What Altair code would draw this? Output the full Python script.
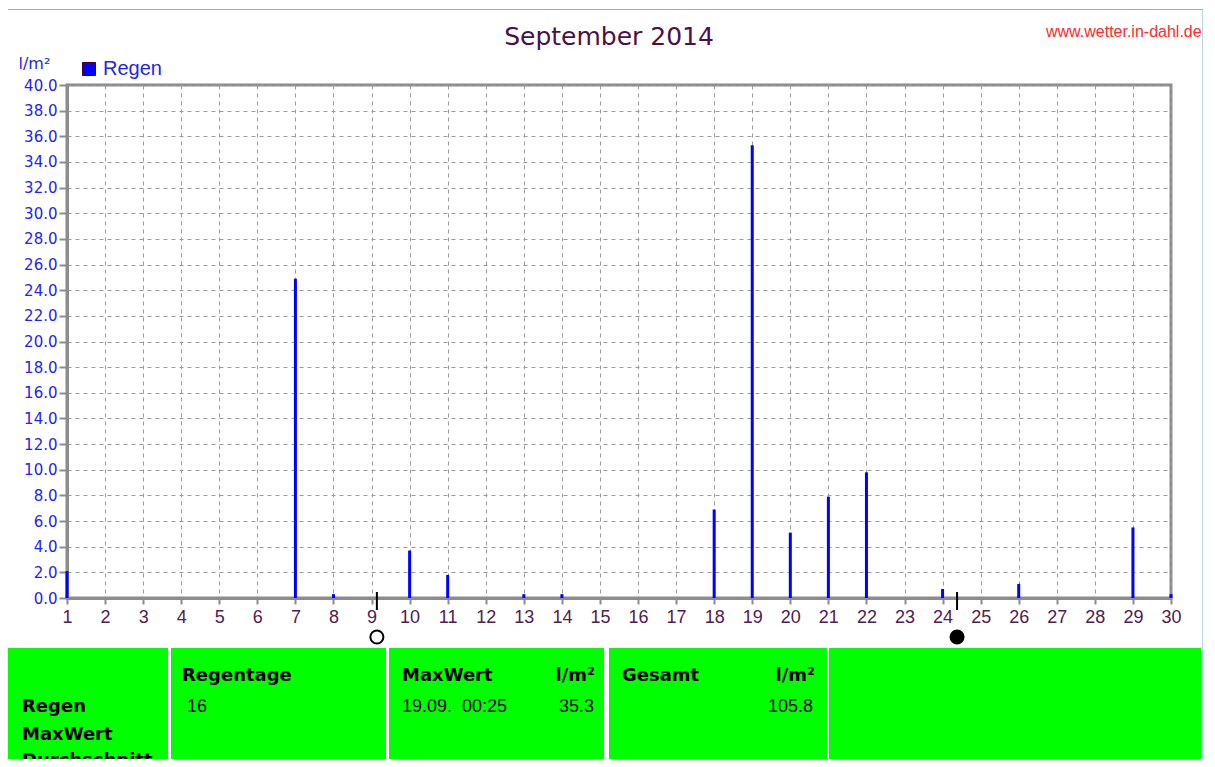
import altair as alt
import pandas as pd

# ---- data ----
days = [1, 7, 8, 10, 11, 13, 14, 18, 19, 20, 21, 22, 24, 26, 29, 30]
rain = [2.1, 24.9, 0.3, 3.7, 1.8, 0.3, 0.3, 6.9, 35.3, 5.1, 7.9, 9.8, 0.7, 1.1, 5.5, 0.3]
series_name = "Regen"

x_tick_values = list(range(1, 31))
y_tick_values = [float(v) for v in range(0, 41, 2)]

moon_days = [9.14, 24.38]
moon_phase = ["Vollmond", "Neumond"]

title_text = "September 2014"
url_text = "www.wetter.in-dahl.de"
unit_text = "l/m²"

row_labels = ["Regen", "MaxWert", "Durchschnitt"]
head_regentage = "Regentage"
val_regentage = "16"
head_maxwert = "MaxWert"
val_maxwert_time = "19.09.\u00a0 00:25"
val_maxwert = "35.3"
head_gesamt = "Gesamt"
val_gesamt = "105.8"

# ---- tables ----
df = pd.DataFrame({"day": days, "rain": rain, "series": [series_name] * len(days)})
moon_df = pd.DataFrame({"day": moon_days, "phase": moon_phase})
one = pd.DataFrame({"k": [0]})

BLUE = "#0000ff"
LBLUE = "#2424f0"
PURPLE = "#502050"
GREEN = "#00ff00"

x_scale = alt.Scale(domain=[1, 30], nice=False, zero=False, padding=0)
y_scale = alt.Scale(domain=[0, 40], nice=False, padding=0)

x_axis = alt.Axis(values=x_tick_values, format="d", title=None,
                  labelFont="Liberation Sans", labelFontSize=18,
                  labelColor=PURPLE, tickSize=6, labelPadding=4,
                  labelOverlap=False, labelFlush=False, labelSeparation=0)

bars = alt.Chart(df).mark_bar(size=3).encode(
    x=alt.X("day:Q", scale=x_scale, axis=x_axis),
    y=alt.Y("rain:Q", scale=y_scale,
            axis=alt.Axis(values=y_tick_values, format=".1f", title=unit_text,
                          titleAngle=0, titleX=-49, titleY=-17, titleAlign="left",
                          titleBaseline="alphabetic", titleFont="DejaVu Sans",
                          titleFontSize=16, titleFontWeight="normal", titleColor=LBLUE,
                          labelFont="DejaVu Sans", labelFontSize=15, labelColor=LBLUE,
                          tickSize=8, labelPadding=2, labelOverlap=False,
                          labelFlush=False)),
    color=alt.Color("series:N", scale=alt.Scale(domain=[series_name], range=[BLUE]),
                    legend=alt.Legend(title=None, orient="none", legendX=12, legendY=-26,
                                      symbolType="square", symbolSize=169,
                                      symbolStrokeColor="#400030", symbolStrokeWidth=1,
                                      labelFont="Liberation Sans", labelFontSize=20,
                                      labelColor=LBLUE, labelOffset=4, padding=0)),
)

moon_ticks = alt.Chart(moon_df).mark_rule(color="black", strokeWidth=2).encode(
    x=alt.X("day:Q", scale=x_scale, axis=x_axis), y=alt.value(507), y2=alt.value(525))

moon_points = alt.Chart(moon_df).mark_point(shape="circle", size=170, filled=True,
                                            stroke="black", strokeWidth=2, opacity=1).encode(
    x=alt.X("day:Q", scale=x_scale, axis=x_axis), y=alt.value(552),
    fill=alt.Fill("phase:N", scale=alt.Scale(domain=moon_phase, range=["white", "black"]),
                  legend=None))


def box(x1, x2, y1, y2, color):
    return alt.Chart(one).mark_rect(color=color).encode(
        x=alt.value(x1), x2=alt.value(x2), y=alt.value(y1), y2=alt.value(y2))


def label(text, x, y, size, color="black", weight="normal", align="left", font="DejaVu Sans"):
    return alt.Chart(one).mark_text(text=text, align=align, baseline="alphabetic",
                                    fontSize=size, font=font, color=color,
                                    fontWeight=weight).encode(x=alt.value(x), y=alt.value(y))


decor = [
    alt.Chart(one).mark_rule(color="#8fb0dc", strokeWidth=1).encode(
        x=alt.value(-62), x2=alt.value(1136), y=alt.value(-75.5)),
    box(1135, 1150, -75, 700, "#bcd4ee"),
    box(-60, 101, 563, 700, GREEN),
    box(104, 319, 563, 700, GREEN),
    box(322, 537, 563, 700, GREEN),
    box(542, 760, 563, 700, GREEN),
    box(762, 1134, 563, 700, GREEN),
    label(title_text, 542, -40, 25, color="#4a1048", align="center"),
    label(url_text, 979, -48, 16, color="#ff2a2a", font="Liberation Sans"),
    label(row_labels[0], -45, 627, 18, weight="bold"),
    label(row_labels[1], -45, 655, 18, weight="bold"),
    label(row_labels[2], -45, 681, 18, weight="bold"),
    label(head_regentage, 115, 596, 18, weight="bold"),
    label(val_regentage, 120, 627, 18, font="Liberation Sans"),
    label(head_maxwert, 335, 596, 18, weight="bold"),
    label(unit_text, 528, 596, 18, weight="bold", align="right"),
    label(val_maxwert_time, 335, 627, 18, font="Liberation Sans"),
    label(val_maxwert, 527, 627, 18, font="Liberation Sans", align="right"),
    label(head_gesamt, 555, 596, 18, weight="bold"),
    label(unit_text, 748, 596, 18, weight="bold", align="right"),
    label(val_gesamt, 746, 627, 18, font="Liberation Sans", align="right"),
]

chart = alt.layer(*decor, bars, moon_ticks, moon_points).properties(
    width=1104, height=513,
    autosize=alt.AutoSizeParams(type="none"),
    padding={"left": 59, "top": 77, "right": 32, "bottom": 161},
    background="white",
).configure_view(
    stroke="#8c8c8c", strokeWidth=3
).configure_axis(
    gridDash=[4, 4], gridColor="#9a9a9a", gridWidth=1,
    domainColor="#8c8c8c", domainWidth=3,
    tickColor="#8c8c8c", tickWidth=2,
    labelFlush=False, labelOverlap=False,
)

chart.save("out.html", embed_options={"renderer": "svg", "actions": False})
